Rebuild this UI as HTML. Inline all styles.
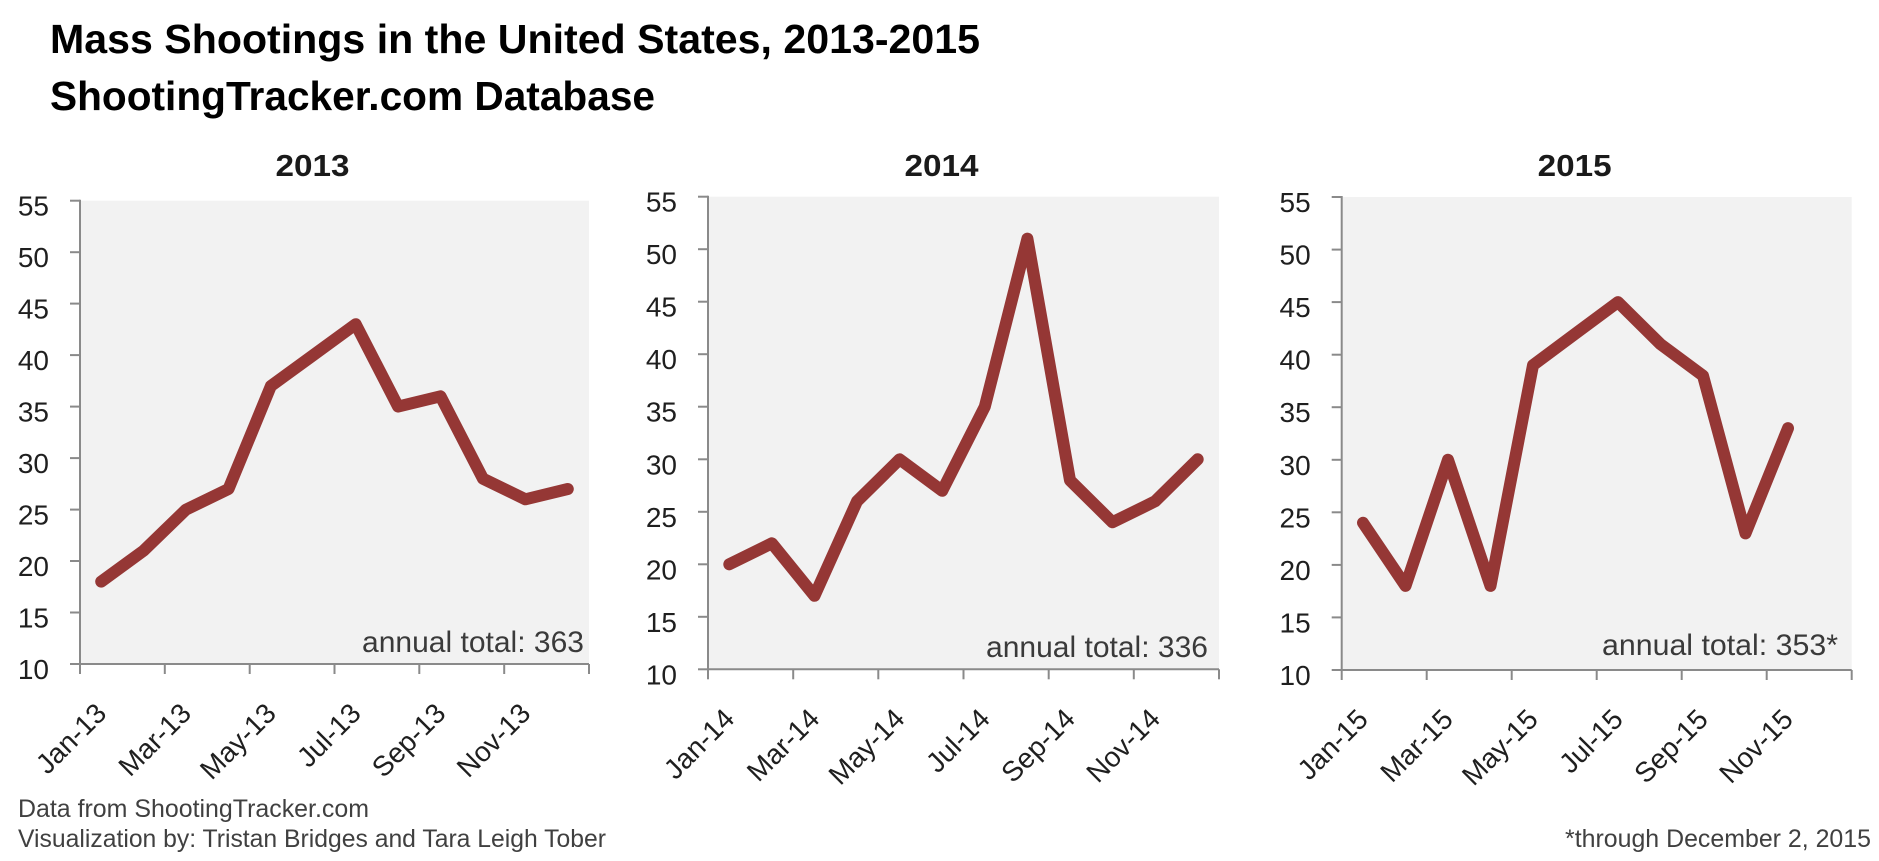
<!DOCTYPE html>
<html>
<head>
<meta charset="utf-8">
<style>
  html, body { margin: 0; padding: 0; background: #ffffff; }
  svg { display: block; }
  text { font-family: "Liberation Sans", Arial, sans-serif; }
</style>
</head>
<body>
<svg xmlns="http://www.w3.org/2000/svg" width="1879" height="861" viewBox="0 0 1879 861">
  <rect x="0" y="0" width="1879" height="861" fill="#ffffff"/>

  <!-- Main title -->
  <text x="50" y="53" font-size="41" font-weight="bold" fill="#000" textLength="930" lengthAdjust="spacingAndGlyphs">Mass Shootings in the United States, 2013-2015</text>
  <text x="50" y="110" font-size="41" font-weight="bold" fill="#000" textLength="605" lengthAdjust="spacingAndGlyphs">ShootingTracker.com Database</text>

  <!-- ================= PANEL 1 (2013) ================= -->
  <text x="312.5" y="176" font-size="31" font-weight="bold" fill="#1a1a1a" text-anchor="middle" textLength="74" lengthAdjust="spacingAndGlyphs">2013</text>
  <rect x="80" y="200.7" width="509" height="463.3" fill="#f2f2f2"/>
  <g stroke="#8a8a8a" stroke-width="2" fill="none">
    <line x1="80" y1="199.7" x2="80" y2="665"/>
    <line x1="79" y1="664" x2="589" y2="664"/>
    <line x1="70" y1="664" x2="80" y2="664"/>
    <line x1="70" y1="612.5" x2="80" y2="612.5"/>
    <line x1="70" y1="561.0" x2="80" y2="561.0"/>
    <line x1="70" y1="509.6" x2="80" y2="509.6"/>
    <line x1="70" y1="458.1" x2="80" y2="458.1"/>
    <line x1="70" y1="406.6" x2="80" y2="406.6"/>
    <line x1="70" y1="355.1" x2="80" y2="355.1"/>
    <line x1="70" y1="303.6" x2="80" y2="303.6"/>
    <line x1="70" y1="252.2" x2="80" y2="252.2"/>
    <line x1="70" y1="200.7" x2="80" y2="200.7"/>
    <line x1="80" y1="664" x2="80" y2="674"/>
    <line x1="164.8" y1="664" x2="164.8" y2="674"/>
    <line x1="249.7" y1="664" x2="249.7" y2="674"/>
    <line x1="334.5" y1="664" x2="334.5" y2="674"/>
    <line x1="419.3" y1="664" x2="419.3" y2="674"/>
    <line x1="504.2" y1="664" x2="504.2" y2="674"/>
    <line x1="589" y1="664" x2="589" y2="674"/>
  </g>
  <g font-size="28" fill="#1f1f1f" text-anchor="end">
    <text x="49" y="679">10</text>
    <text x="49" y="627.5">15</text>
    <text x="49" y="576">20</text>
    <text x="49" y="524.6">25</text>
    <text x="49" y="473.1">30</text>
    <text x="49" y="421.6">35</text>
    <text x="49" y="370.1">40</text>
    <text x="49" y="318.6">45</text>
    <text x="49" y="267.2">50</text>
    <text x="49" y="215.7">55</text>
  </g>
  <g font-size="28" fill="#1f1f1f" text-anchor="end">
    <text transform="translate(108,715) rotate(-45)">Jan-13</text>
    <text transform="translate(192.8,715) rotate(-45)">Mar-13</text>
    <text transform="translate(277.7,715) rotate(-45)">May-13</text>
    <text transform="translate(362.5,715) rotate(-45)">Jul-13</text>
    <text transform="translate(447.3,715) rotate(-45)">Sep-13</text>
    <text transform="translate(532.2,715) rotate(-45)">Nov-13</text>
  </g>
  <polyline fill="none" stroke="#953735" stroke-width="12" stroke-linejoin="round" stroke-linecap="round"
    points="101.2,581.6 143.6,550.7 186.0,509.6 228.5,489.0 270.9,386.0 313.3,355.1 355.7,324.2 398.1,406.6 440.5,396.3 483.0,478.7 525.4,499.3 567.8,489.0"/>
  <text x="362" y="652" font-size="30" fill="#3a3a3a" textLength="222" lengthAdjust="spacingAndGlyphs">annual total: 363</text>

  <!-- ================= PANEL 2 (2014) ================= -->
  <text x="941.5" y="176" font-size="31" font-weight="bold" fill="#1a1a1a" text-anchor="middle" textLength="74" lengthAdjust="spacingAndGlyphs">2014</text>
  <rect x="708" y="196.7" width="511" height="472.6" fill="#f2f2f2"/>
  <g stroke="#8a8a8a" stroke-width="2" fill="none">
    <line x1="708" y1="195.7" x2="708" y2="670.3"/>
    <line x1="707" y1="669.3" x2="1219" y2="669.3"/>
    <line x1="698" y1="669.3" x2="708" y2="669.3"/>
    <line x1="698" y1="616.8" x2="708" y2="616.8"/>
    <line x1="698" y1="564.3" x2="708" y2="564.3"/>
    <line x1="698" y1="511.8" x2="708" y2="511.8"/>
    <line x1="698" y1="459.3" x2="708" y2="459.3"/>
    <line x1="698" y1="406.7" x2="708" y2="406.7"/>
    <line x1="698" y1="354.2" x2="708" y2="354.2"/>
    <line x1="698" y1="301.7" x2="708" y2="301.7"/>
    <line x1="698" y1="249.2" x2="708" y2="249.2"/>
    <line x1="698" y1="196.7" x2="708" y2="196.7"/>
    <line x1="708" y1="669.3" x2="708" y2="679.3"/>
    <line x1="793.2" y1="669.3" x2="793.2" y2="679.3"/>
    <line x1="878.3" y1="669.3" x2="878.3" y2="679.3"/>
    <line x1="963.5" y1="669.3" x2="963.5" y2="679.3"/>
    <line x1="1048.7" y1="669.3" x2="1048.7" y2="679.3"/>
    <line x1="1133.8" y1="669.3" x2="1133.8" y2="679.3"/>
    <line x1="1219" y1="669.3" x2="1219" y2="679.3"/>
  </g>
  <g font-size="28" fill="#1f1f1f" text-anchor="end">
    <text x="677" y="684.3">10</text>
    <text x="677" y="631.8">15</text>
    <text x="677" y="579.3">20</text>
    <text x="677" y="526.8">25</text>
    <text x="677" y="474.3">30</text>
    <text x="677" y="421.7">35</text>
    <text x="677" y="369.2">40</text>
    <text x="677" y="316.7">45</text>
    <text x="677" y="264.2">50</text>
    <text x="677" y="211.7">55</text>
  </g>
  <g font-size="28" fill="#1f1f1f" text-anchor="end">
    <text transform="translate(736,720.3) rotate(-45)">Jan-14</text>
    <text transform="translate(821.2,720.3) rotate(-45)">Mar-14</text>
    <text transform="translate(906.3,720.3) rotate(-45)">May-14</text>
    <text transform="translate(991.5,720.3) rotate(-45)">Jul-14</text>
    <text transform="translate(1076.7,720.3) rotate(-45)">Sep-14</text>
    <text transform="translate(1161.8,720.3) rotate(-45)">Nov-14</text>
  </g>
  <polyline fill="none" stroke="#953735" stroke-width="12" stroke-linejoin="round" stroke-linecap="round"
    points="729.3,564.3 771.9,543.3 814.5,595.8 857.0,501.3 899.6,459.3 942.2,490.8 984.8,406.7 1027.4,238.7 1070.0,480.3 1112.5,522.3 1155.1,501.3 1197.7,459.3"/>
  <text x="986" y="657" font-size="30" fill="#3a3a3a" textLength="222" lengthAdjust="spacingAndGlyphs">annual total: 336</text>

  <!-- ================= PANEL 3 (2015) ================= -->
  <text x="1574.7" y="176" font-size="31" font-weight="bold" fill="#1a1a1a" text-anchor="middle" textLength="74" lengthAdjust="spacingAndGlyphs">2015</text>
  <rect x="1341.7" y="197" width="510" height="473" fill="#f2f2f2"/>
  <g stroke="#8a8a8a" stroke-width="2" fill="none">
    <line x1="1341.7" y1="196" x2="1341.7" y2="671"/>
    <line x1="1340.7" y1="670" x2="1851.7" y2="670"/>
    <line x1="1331.7" y1="670" x2="1341.7" y2="670"/>
    <line x1="1331.7" y1="617.4" x2="1341.7" y2="617.4"/>
    <line x1="1331.7" y1="564.9" x2="1341.7" y2="564.9"/>
    <line x1="1331.7" y1="512.3" x2="1341.7" y2="512.3"/>
    <line x1="1331.7" y1="459.8" x2="1341.7" y2="459.8"/>
    <line x1="1331.7" y1="407.2" x2="1341.7" y2="407.2"/>
    <line x1="1331.7" y1="354.7" x2="1341.7" y2="354.7"/>
    <line x1="1331.7" y1="302.1" x2="1341.7" y2="302.1"/>
    <line x1="1331.7" y1="249.6" x2="1341.7" y2="249.6"/>
    <line x1="1331.7" y1="197" x2="1341.7" y2="197"/>
    <line x1="1341.7" y1="670" x2="1341.7" y2="680"/>
    <line x1="1426.7" y1="670" x2="1426.7" y2="680"/>
    <line x1="1511.7" y1="670" x2="1511.7" y2="680"/>
    <line x1="1596.7" y1="670" x2="1596.7" y2="680"/>
    <line x1="1681.7" y1="670" x2="1681.7" y2="680"/>
    <line x1="1766.7" y1="670" x2="1766.7" y2="680"/>
    <line x1="1851.7" y1="670" x2="1851.7" y2="680"/>
  </g>
  <g font-size="28" fill="#1f1f1f" text-anchor="end">
    <text x="1310.7" y="685">10</text>
    <text x="1310.7" y="632.4">15</text>
    <text x="1310.7" y="579.9">20</text>
    <text x="1310.7" y="527.3">25</text>
    <text x="1310.7" y="474.8">30</text>
    <text x="1310.7" y="422.2">35</text>
    <text x="1310.7" y="369.7">40</text>
    <text x="1310.7" y="317.1">45</text>
    <text x="1310.7" y="264.6">50</text>
    <text x="1310.7" y="212">55</text>
  </g>
  <g font-size="28" fill="#1f1f1f" text-anchor="end">
    <text transform="translate(1369.7,721) rotate(-45)">Jan-15</text>
    <text transform="translate(1454.7,721) rotate(-45)">Mar-15</text>
    <text transform="translate(1539.7,721) rotate(-45)">May-15</text>
    <text transform="translate(1624.7,721) rotate(-45)">Jul-15</text>
    <text transform="translate(1709.7,721) rotate(-45)">Sep-15</text>
    <text transform="translate(1794.7,721) rotate(-45)">Nov-15</text>
  </g>
  <polyline fill="none" stroke="#953735" stroke-width="12" stroke-linejoin="round" stroke-linecap="round"
    points="1363.0,522.8 1405.5,585.9 1448.0,459.8 1490.5,585.9 1533.0,365.2 1575.5,333.6 1618.0,302.1 1660.5,344.2 1703.0,375.7 1745.5,533.4 1788.0,428.2"/>
  <text x="1602" y="655" font-size="30" fill="#3a3a3a" textLength="236" lengthAdjust="spacingAndGlyphs">annual total: 353*</text>

  <!-- Footer -->
  <text x="18" y="817" font-size="25" fill="#404040" textLength="351" lengthAdjust="spacingAndGlyphs">Data from ShootingTracker.com</text>
  <text x="18" y="847" font-size="25" fill="#404040" textLength="588" lengthAdjust="spacingAndGlyphs">Visualization by: Tristan Bridges and Tara Leigh Tober</text>
  <text x="1871" y="847" font-size="25" fill="#404040" text-anchor="end" textLength="306" lengthAdjust="spacingAndGlyphs">*through December 2, 2015</text>
</svg>
</body>
</html>
